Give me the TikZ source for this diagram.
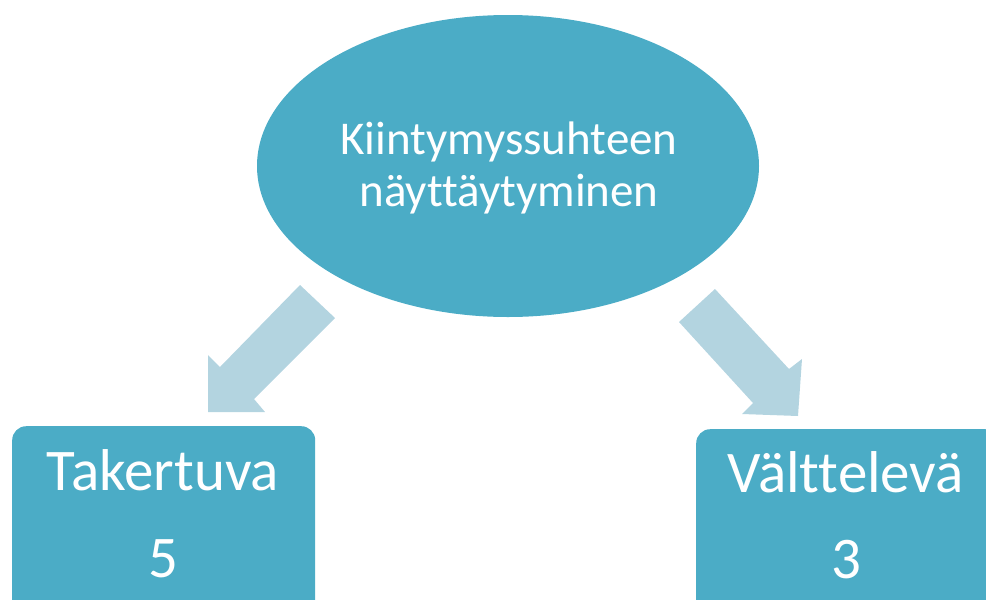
\documentclass[tikz,border=0pt]{standalone}
\usepackage{fontspec}
\setmainfont[Ligatures={NoCommon}]{Carlito}
\usetikzlibrary{shapes.geometric}
\definecolor{teal1}{HTML}{4BACC6}
\definecolor{arrowc}{HTML}{B3D4E0}
\begin{document}
\begin{tikzpicture}[x=1pt,y=-1pt,
  box/.style={fill=teal1, rounded corners=14pt, minimum width=303pt, minimum height=240pt, inner sep=0pt, anchor=north west},
  txt/.style={text=white, anchor=base, inner sep=0pt},
  blockarrow/.style={fill=arrowc, draw=none}]
\useasboundingbox (0,0) rectangle (986,600);
\clip (0,0) rectangle (986,600);
\node[ellipse, fill=teal1, minimum width=502pt, minimum height=302pt, inner sep=0pt] (top) at (508,166) {};
\node[txt, font=\fontsize{47}{52}\selectfont] (t1) at (509,154) {Kiintymyssuhteen};
\node[txt, font=\fontsize{47}{52}\selectfont] (t2) at (509,206) {näyttäytyminen};
\node[box] (L) at (12,426) {};
\node[box] (R) at (696,429) {};
\node[txt, font=\fontsize{59}{64}\selectfont] (l1) at (163,490) {Takertuva};
\node[txt, font=\fontsize{59}{64}\selectfont] (l2) at (163,577) {5};
\node[txt, font=\fontsize{59}{64}\selectfont] (r1) at (846,492) {Välttelevä};
\node[txt, font=\fontsize{59}{64}\selectfont] (r2) at (846,578) {3};
\fill[blockarrow] (300,285) -- (335,318) -- (254,399) -- (265,412) -- (208,412) -- (208,355) -- (220,367) -- cycle;
\fill[blockarrow] (679,322) -- (715,289) -- (789,369) -- (802,359) -- (798,416) -- (742,414) -- (753,403) -- cycle;
\end{tikzpicture}
\end{document}
